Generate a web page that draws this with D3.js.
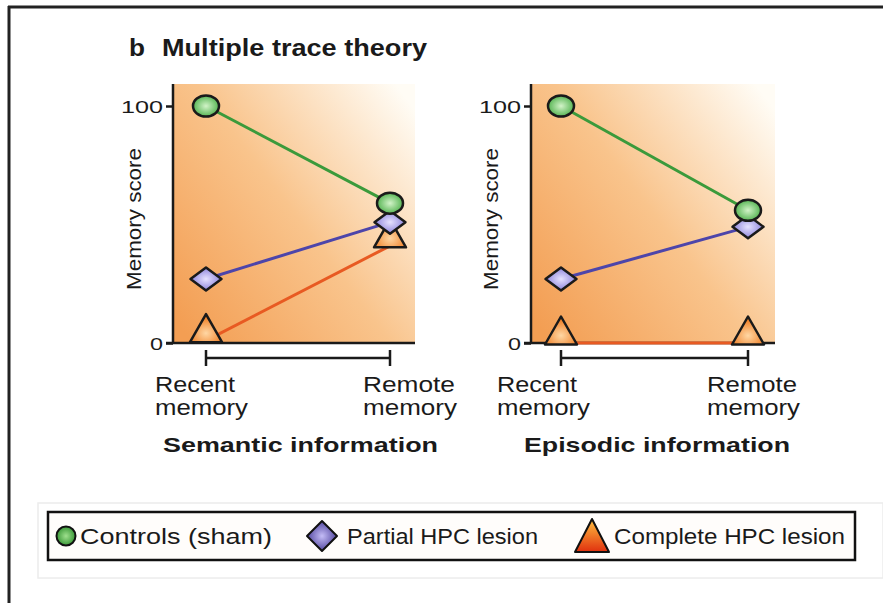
<!DOCTYPE html>
<html>
<head>
<meta charset="utf-8">
<script src="https://cdn.jsdelivr.net/npm/d3@7"></script>
<style>
  body { margin: 0; background: #fff; }
  text { font-family: "Liberation Sans", Arial, sans-serif; fill: #1a1a1a; }
  text.bold { font-weight: bold; }
</style>
</head>
<body>
<svg id="chart"></svg>
<script>
// Data
var timePoints = ["Recent", "Remote"];
var timeLabels = [["Recent", "memory"], ["Remote", "memory"]];
var panelTitles = ["Semantic information", "Episodic information"];
var seriesNames = ["Controls (sham)", "Partial HPC lesion", "Complete HPC lesion"];
var yTicks = [0, 100];

// memory scores, [recent, remote]
var semanticControls = [100, 59];
var semanticPartial = [27, 51];
var semanticComplete = [1, 41];
var episodicControls = [100, 56];
var episodicPartial = [27, 49];
var episodicComplete = [0, 0];

var width = 883;
var height = 603;

var svg = d3.select("#chart").attr("width", width).attr("height", height);
var defs = svg.append("defs");

// background gradient of the plot areas (orange bottom-left -> white top-right)
var bg = defs.append("linearGradient").attr("id", "bgGrad")
    .attr("x1", 0).attr("y1", 0.9).attr("x2", 1).attr("y2", 0.1);
bg.append("stop").attr("offset", "0%").attr("stop-color", "#f39e53");
bg.append("stop").attr("offset", "50%").attr("stop-color", "#f9c48c");
bg.append("stop").attr("offset", "100%").attr("stop-color", "#fffcf5");

function radial(id, inner, outer, cy) {
    var g = defs.append("radialGradient").attr("id", id)
        .attr("cx", "50%").attr("cy", cy || "50%").attr("r", "60%");
    g.append("stop").attr("offset", "0%").attr("stop-color", inner);
    g.append("stop").attr("offset", "100%").attr("stop-color", outer);
}
radial("gGreen", "#d2f3c8", "#3ea83c");
radial("gPurple", "#e6e2ff", "#7a70d4");
radial("gOrange", "#ffd7a4", "#ee7a1e", "68%");
radial("gGreenL", "#9fe08e", "#268a26");
radial("gPurpleL", "#c4bcf6", "#3b2f8e");
var lt = defs.append("linearGradient").attr("id", "gTriL")
    .attr("x1", 0).attr("y1", 0).attr("x2", 0).attr("y2", 1);
lt.append("stop").attr("offset", "0%").attr("stop-color", "#ffc040");
lt.append("stop").attr("offset", "100%").attr("stop-color", "#e0300e");

// outer frame (top and left edges)
svg.append("line").attr("x1", 8).attr("x2", width).attr("y1", 7).attr("y2", 7)
    .style("stroke", "#222").style("stroke-width", 3);
svg.append("line").attr("x1", 9).attr("x2", 9).attr("y1", 6).attr("y2", height)
    .style("stroke", "#222").style("stroke-width", 3);

// figure title
svg.append("text").attr("class", "bold").attr("x", 129).attr("y", 56).attr("font-size", 24)
    .attr("textLength", 16).attr("lengthAdjust", "spacingAndGlyphs").text("b");
svg.append("text").attr("class", "bold").attr("x", 162).attr("y", 56).attr("font-size", 23)
    .attr("textLength", 265).attr("lengthAdjust", "spacingAndGlyphs").text("Multiple trace theory");

// panel geometry
var panels = [
    { left: 173, right: 415, xs: [206, 390], title: panelTitles[0], titleX: 163, titleW: 275,
      labelX: [155, 363], labelW: [[80, 93], [92, 94]], ylabX: 134,
      series: [semanticControls, semanticPartial, semanticComplete] },
    { left: 531, right: 775, xs: [561, 748], title: panelTitles[1], titleX: 524, titleW: 266,
      labelX: [497, 707], labelW: [[80, 93], [90, 93]], ylabX: 491,
      series: [episodicControls, episodicPartial, episodicComplete] }
];
var plotTop = 84, plotBottom = 343;
var lineColors = ["#3b9a3b", "#4d45aa", "#e85a22"];

panels.forEach(drawPanel);

function drawPanel(p) {
    var x = d3.scalePoint().domain(timePoints).range(p.xs);
    var y = d3.scaleLinear().domain([0, 100]).range([plotBottom, 106]);
    var g = svg.append("g");

    g.append("rect").attr("x", p.left).attr("y", plotTop)
        .attr("width", p.right - p.left).attr("height", plotBottom - plotTop)
        .style("fill", "url(#bgGrad)");

    // y axis with ticks at 0 and 100
    var yAxis = g.append("g").attr("transform", "translate(" + p.left + ",0)")
        .call(d3.axisLeft(y).tickValues(yTicks).tickSize(7).tickPadding(3));
    yAxis.select(".domain").remove();
    yAxis.selectAll("line").style("stroke", "#1a1a1a").style("stroke-width", 2.5);
    yAxis.selectAll("text").attr("font-size", 17).attr("dy", "0.36em")
        .style("font-family", "Liberation Sans, Arial, sans-serif").style("fill", "#1a1a1a")
        .attr("textLength", function (d) { return d === 100 ? 42 : 13; })
        .attr("lengthAdjust", "spacingAndGlyphs");
    g.append("line").attr("x1", p.left).attr("x2", p.left).attr("y1", plotTop).attr("y2", plotBottom)
        .style("stroke", "#1a1a1a").style("stroke-width", 2.5);
    g.append("line").attr("x1", p.left - 7).attr("x2", p.right).attr("y1", plotBottom).attr("y2", plotBottom)
        .style("stroke", "#1a1a1a").style("stroke-width", 2.5);

    // y axis title
    g.append("text").attr("transform", "translate(" + p.ylabX + "," + 219 + ")rotate(-90)")
        .attr("text-anchor", "middle").attr("dy", "0.35em").attr("font-size", 20)
        .attr("textLength", 142).attr("lengthAdjust", "spacingAndGlyphs").text("Memory score");

    // bracket below the axis
    var by = 358;
    g.append("line").attr("x1", x(timePoints[0])).attr("x2", x(timePoints[1])).attr("y1", by).attr("y2", by)
        .style("stroke", "#1a1a1a").style("stroke-width", 2.5);
    timePoints.forEach(function (t) {
        g.append("line").attr("x1", x(t)).attr("x2", x(t)).attr("y1", by - 8).attr("y2", by + 8)
            .style("stroke", "#1a1a1a").style("stroke-width", 2.5);
    });

    // time labels
    timeLabels.forEach(function (lines, i) {
        lines.forEach(function (s, j) {
            g.append("text").attr("x", p.labelX[i]).attr("y", 392 + j * 23).attr("font-size", 22)
                .attr("textLength", p.labelW[i][j]).attr("lengthAdjust", "spacingAndGlyphs").text(s);
        });
    });

    // panel title
    g.append("text").attr("class", "bold").attr("x", p.titleX).attr("y", 452).attr("font-size", 21)
        .attr("textLength", p.titleW).attr("lengthAdjust", "spacingAndGlyphs").text(p.title);

    // lines (drawn first, markers on top)
    var line = d3.line().x(function (d, i) { return x(timePoints[i]); }).y(function (d) { return y(d); });
    [2, 1, 0].forEach(function (k) {
        g.append("path").datum(p.series[k]).attr("d", line)
            .style("fill", "none").style("stroke", lineColors[k]).style("stroke-width", 3);
    });

    // triangles (complete lesion), base sitting on the value
    g.selectAll("path.tri").data(p.series[2]).enter().append("path").attr("class", "tri")
        .attr("d", function (d, i) {
            var cx = x(timePoints[i]), b = y(d) + 1.5;
            return "M" + (cx - 16) + "," + b + "L" + cx + "," + (b - 28) + "L" + (cx + 16) + "," + b + "Z";
        })
        .style("fill", "url(#gOrange)").style("stroke", "#1a1a1a").style("stroke-width", 2.5)
        .style("stroke-linejoin", "round");

    // diamonds (partial lesion)
    g.selectAll("path.dia").data(p.series[1]).enter().append("path").attr("class", "dia")
        .attr("d", function (d, i) {
            var cx = x(timePoints[i]), cy = y(d);
            return "M" + (cx - 15.5) + "," + cy + "L" + cx + "," + (cy - 11.5) + "L" + (cx + 15.5) + "," + cy +
                "L" + cx + "," + (cy + 11.5) + "Z";
        })
        .style("fill", "url(#gPurple)").style("stroke", "#1a1a1a").style("stroke-width", 2.5)
        .style("stroke-linejoin", "round");

    // circles (controls)
    g.selectAll("ellipse.ctl").data(p.series[0]).enter().append("ellipse").attr("class", "ctl")
        .attr("cx", function (d, i) { return x(timePoints[i]); })
        .attr("cy", function (d) { return y(d); })
        .attr("rx", 13).attr("ry", 10.5)
        .style("fill", "url(#gGreen)").style("stroke", "#1a1a1a").style("stroke-width", 2.5);
}

// legend
var lg = svg.append("g");
lg.append("rect").attr("x", 38).attr("y", 503).attr("width", 845).attr("height", 75)
    .style("fill", "#fff").style("stroke", "#ececec").style("stroke-width", 1.5);
lg.append("rect").attr("x", 48).attr("y", 512).attr("width", 807).attr("height", 48)
    .style("fill", "#fffdfb").style("stroke", "#111").style("stroke-width", 2.5);

var legendX = [66, 322, 592];
var legendTextX = [80, 347, 614];
var legendTextW = [192, 191, 231];
var ly = 536;

lg.append("circle").attr("cx", legendX[0]).attr("cy", ly).attr("r", 9.5)
    .style("fill", "url(#gGreenL)").style("stroke", "#111").style("stroke-width", 2);
lg.append("path")
    .attr("d", "M" + (legendX[1] - 15) + "," + ly + "L" + legendX[1] + "," + (ly - 15) + "L" + (legendX[1] + 15) + "," + ly +
        "L" + legendX[1] + "," + (ly + 15) + "Z")
    .style("fill", "url(#gPurpleL)").style("stroke", "#111").style("stroke-width", 2).style("stroke-linejoin", "round");
lg.append("path")
    .attr("d", "M" + (legendX[2] - 17) + "," + (ly + 16) + "L" + legendX[2] + "," + (ly - 17) + "L" + (legendX[2] + 17) + "," + (ly + 16) + "Z")
    .style("fill", "url(#gTriL)").style("stroke", "#111").style("stroke-width", 2).style("stroke-linejoin", "round");

seriesNames.forEach(function (s, i) {
    lg.append("text").attr("x", legendTextX[i]).attr("y", ly + 8).attr("font-size", 22)
        .attr("textLength", legendTextW[i]).attr("lengthAdjust", "spacingAndGlyphs").text(s);
});
</script>
</body>
</html>
